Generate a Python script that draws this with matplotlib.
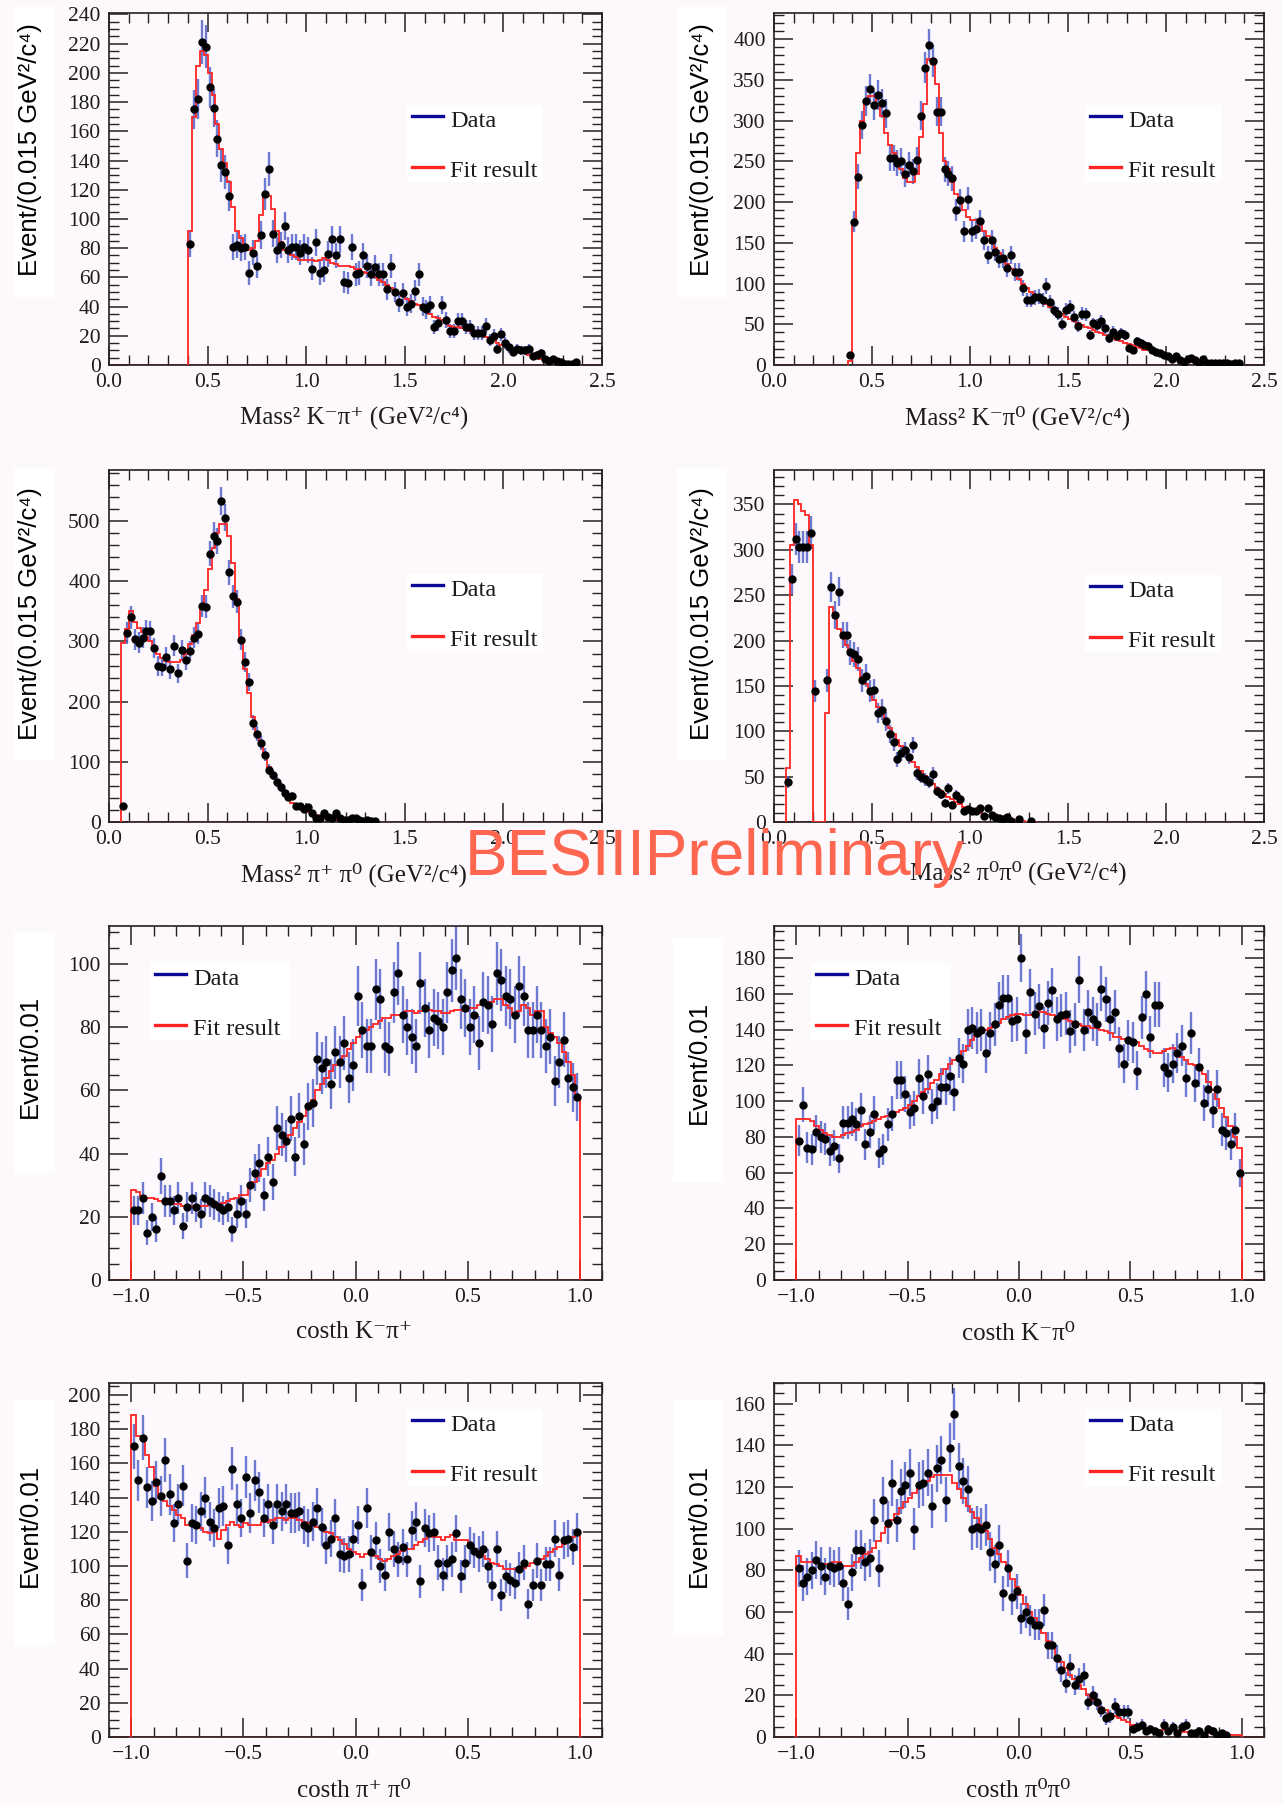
import numpy as np
import matplotlib
matplotlib.use("Agg")
import matplotlib.pyplot as plt
from matplotlib.ticker import MultipleLocator
from matplotlib.patches import Rectangle
from matplotlib.lines import Line2D

# ---------------- data ----------------
nan = np.nan
# bin width of the plotted points
mass_step = 0.02
cos_step = 0.02

# Panel 1: Mass^2 K- pi+
kpip_start = 0.41
kpip_data = [83, 175, 182, 221, 218, 190, 176, 155, 137, 132,
             116, 81, 82, 80, 81, 63, 77, 68, 89, 117,
             134, 90, 79, 82, 95, 79, 81, 81, 77, 81,
             79, 66, 84, 63, 65, 76, 86, 75, 86, 57,
             56, 81, 62, 63, 75, 68, 62, 67, 62, 62,
             52, 68, 50, 43, 49, 40, 42, 51, 62, 40,
             38, 41, 26, 29, 41, 31, 23, 23, 30, 30,
             26, 26, 22, 22, 22, 27, 17, 20, 11, 21,
             15, 12, 9, 11, 10, 10, 11, 6, 7, 8,
             4, 3, 4, 3, 2, 1, 1, 1, 2]
kpip_fit = [92, 170, 205, 215, 212, 200, 185, 165, 148, 138,
            125, 108, 92, 87, 81, 79, 80, 85, 103, 116,
            116, 107, 92, 84, 79, 77, 75, 74, 72, 72,
            72, 72, 71, 72, 73, 72, 70, 69, 68, 68,
            68, 67, 66, 66, 64, 63, 61, 60, 58, 57,
            55, 53, 51, 49, 47, 45, 44, 42, 41, 39,
            37, 35, 33, 32, 31, 29, 27, 26, 26, 25,
            24, 23, 22, 21, 20, 19, 18, 17, 15, 14,
            13, 12, 11, 10, 9, 8, 7, 6, 5, 4,
            3.5, 3, 2.5, 2, 1.5, 1, 0.7, 0.4, 0.2]

# Panel 2: Mass^2 K- pi0
kpi0_start = 0.39
kpi0_data = [12, 176, 231, 294, 324, 339, 319, 331, 321, 309,
             254, 254, 248, 250, 234, 246, 238, 252, 306, 365,
             393, 373, 311, 311, 240, 235, 229, 190, 202, 164,
             204, 164, 167, 177, 153, 135, 153, 139, 130, 131,
             119, 135, 114, 114, 95, 80, 80, 83, 84, 80,
             97, 77, 68, 63, 50, 68, 71, 59, 48, 63,
             62, 37, 51, 49, 54, 45, 33, 41, 35, 39,
             37, 21, 18, 29, 27, 24, 23, 19, 16, 15,
             12, 11, 7, 11, 6, 4, 7, 9, 6, 3,
             7, 3, 2, 2, 2, 3, 3, 1, 2, 2]
kpi0_fit = [5, 175, 260, 300, 320, 330, 330, 320, 305, 285,
            270, 260, 250, 240, 230, 225, 225, 235, 280, 320,
            375, 370, 345, 285, 250, 240, 225, 210, 200, 190,
            182, 178, 178, 172, 165, 158, 150, 143, 137, 130,
            124, 118, 112, 106, 100, 95, 90, 86, 82, 78,
            75, 71, 68, 65, 62, 59, 56, 54, 51, 49,
            47, 45, 43, 41, 39, 37, 35, 33, 31, 29,
            27, 26, 24, 22, 21, 19, 18, 16, 15, 13,
            12, 11, 10, 8, 7, 6, 5, 4, 3.5, 3,
            2.5, 2, 1.5, 1, 0.8, 0.5, 0.3, 0.2, 0.1, 0]

# Panel 3: Mass^2 pi+ pi0
pippi0_start = 0.07
pippi0_data = [26, 314, 340, 304, 298, 306, 318, 317, 289, 259,
               258, 274, 254, 293, 247, 286, 269, 284, 306, 313,
               359, 358, 446, 476, 467, 534, 506, 415, 375, 366,
               303, 266, 233, 165, 147, 131, 112, 87, 78, 66,
               58, 48, 42, 44, 26, 26, 22, 25, 15, 7,
               6, 15, 8, 7, 15, 7, 3, 4, 7, 7,
               3, 1, 3, 1, 1]
pippi0_fit = [298, 320, 350, 333, 322, 315, 308, 300, 290, 280,
              272, 268, 266, 266, 266, 270, 280, 295, 310, 330,
              355, 385, 420, 455, 480, 495, 495, 475, 430, 370,
              300, 255, 215, 175, 150, 130, 110, 92, 78, 65,
              55, 46, 38, 32, 27, 23, 19, 16, 13, 11,
              9, 7.5, 6, 5, 4, 3.5, 3, 2.5, 2, 1.5,
              1, 0.8, 0.5, 0.3, 0.1]

# Panel 4: Mass^2 pi0 pi0 (K_S veto gap)
pi0pi0_start = 0.07
pi0pi0_data = [44, 268, 312, 303, 303, 303, 319, 144, nan, nan,
               156, 259, 228, 254, 206, 206, 187, 185, 180, 156,
               161, 144, 146, 120, 124, 111, 97, 88, 69, 76,
               79, 72, 85, 54, 50, 47, 44, 53, 34, 31,
               21, 37, 19, 30, 25, 12, 14, 12, 12, 15,
               7, 15, 8, 5, 4, 3, 5, 1.5, nan, 3,
               nan, nan, 1, nan]
pi0pi0_fit = [60, 305, 355, 350, 343, 338, 305, 0, 0, 0,
              120, 237, 225, 213, 203, 195, 186, 178, 170, 160,
              152, 143, 135, 127, 120, 112, 104, 97, 90, 84,
              78, 72, 66, 61, 56, 51, 46, 42, 38, 34,
              31, 28, 25, 22, 20, 17, 15, 13, 12, 10,
              9, 7, 6, 5, 4, 3, 2.5, 2, 1.5, 1,
              0.7, 0.5, 0.3, 0.1]

# Panels 5-8: helicity angles, 100 bins from -1 to 1
cos_start = -0.99
costh_kpip_data = [22, 22, 26, 15, 20, 16, 33, 25, 25, 22,
                   26, 17, 23, 26, 23, 21, 26, 25, 24, 23,
                   22, 23, 16, 21, 25, 21, 30, 34, 37, 27,
                   39, 31, 48, 46, 44, 51, 39, 52, 43, 55,
                   56, 70, 67, 69, 62, 72, 69, 75, 64, 68,
                   90, 79, 74, 74, 92, 89, 74, 73, 91, 97,
                   84, 80, 77, 74, 94, 86, 79, 83, 82, 80,
                   91, 98, 102, 89, 86, 80, 84, 75, 88, 87,
                   81, 97, 95, 90, 89, 84, 93, 90, 79, 79,
                   84, 79, 74, 77, 63, 69, 76, 64, 61, 58]
costh_kpip_fit = [28.5, 28, 26.5, 26, 26, 25.5, 25, 25, 24.5, 24,
                  24, 23.5, 23.5, 23.5, 23.5, 23.5, 23.5, 24, 24, 24,
                  24.5, 25, 25.5, 26, 27, 27, 29, 31, 33, 35,
                  37, 38, 40, 42, 44, 46, 48, 50, 52, 55,
                  57, 60, 62, 64, 66, 68, 69, 71, 73, 75,
                  77, 78, 79, 80, 81, 82, 83, 83, 84, 84,
                  84, 85, 85, 84.5, 85, 85, 85.5, 85, 85, 84.5,
                  84.5, 85, 85.5, 85.5, 85, 86, 86, 87, 87, 88,
                  88, 89, 89, 87, 86, 84, 85, 87, 86, 84,
                  85, 85, 80, 78, 77, 75, 72, 69, 65, 57]

costh_kpi0_data = [78, 98, 74, 73, 83, 80, 79, 72, 75, 68,
                   88, 88, 90, 87, 95, 76, 83, 93, 71, 73,
                   87, 93, 112, 112, 104, 94, 96, 113, 103, 115,
                   97, 100, 108, 108, 114, 105, 124, 121, 140, 141,
                   138, 140, 127, 138, 143, 154, 158, 158, 145, 146,
                   180, 138, 161, 149, 153, 141, 155, 162, 146, 148,
                   149, 139, 143, 168, 140, 150, 146, 143, 163, 157,
                   146, 150, 130, 121, 134, 133, 117, 147, 160, 136,
                   154, 154, 119, 116, 121, 127, 131, 113, 138, 110,
                   119, 99, 107, 95, 107, 84, 82, 76, 84, 60]
costh_kpi0_fit = [90, 90, 90, 89, 86, 84, 82, 81, 80, 80,
                  81, 82, 83, 84, 86, 87, 88, 89, 90, 91,
                  92, 93, 94, 95, 96, 98, 100, 103, 105, 107,
                  110, 112, 115, 118, 121, 123, 125, 128, 131, 134,
                  137, 139, 140, 141, 143, 144, 146, 147, 148, 149,
                  149, 148, 148, 149, 150, 150, 149, 148, 147, 147,
                  146, 145, 144, 143, 142, 142, 141, 141, 140, 139,
                  138, 136, 136, 135, 135, 134, 133, 131, 129, 128,
                  127, 127, 128, 129, 130, 128, 125, 123, 121, 120,
                  118, 115, 111, 106, 101, 96, 91, 86, 80, 74]

costh_pippi0_data = [170, 150, 175, 146, 138, 149, 141, 162, 142, 125,
                     136, 147, 103, 125, 124, 132, 140, 126, 122, 134,
                     135, 112, 157, 136, 128, 152, 131, 150, 143, 128,
                     136, 124, 136, 132, 136, 131, 131, 132, 124, 122,
                     126, 134, 123, 112, 116, 128, 107, 106, 107, 116,
                     124, 89, 134, 108, 115, 100, 95, 120, 110, 104,
                     111, 104, 121, 126, 91, 122, 119, 120, 102, 95,
                     102, 104, 119, 94, 102, 112, 109, 107, 110, 100,
                     89, 110, 83, 94, 92, 90, 98, 102, 78, 89,
                     103, 89, 101, 101, 116, 95, 115, 116, 111, 120]
costh_pippi0_fit = [188, 176, 176, 165, 158, 147, 140, 138, 135, 133,
                    130, 128, 124, 124, 124, 122, 120, 119, 121, 116,
                    121, 124, 126, 124, 123, 125, 124, 124, 124, 126,
                    126, 127, 128, 128, 127, 128, 128, 127, 126, 125,
                    124, 123, 122, 120, 119, 117, 115, 113, 110, 108,
                    107, 105, 107, 108, 106, 104, 103, 104, 106, 107,
                    109, 110, 110, 112, 114, 116, 118, 117, 117, 115,
                    117, 118, 115, 115, 115, 112, 110, 108, 106, 104,
                    102, 101, 100, 98, 98, 98, 98, 99, 100, 102,
                    103, 104, 106, 108, 110, 111, 113, 115, 117, 119]

costh_pi0pi0_data = [81, 74, 77, 80, 85, 82, 77, 82, 81, 82,
                     74, 64, 79, 90, 90, 84, 86, 104, 81, 114,
                     103, 122, 104, 118, 121, 127, 100, 121, 122, 127,
                     111, 129, 133, 114, 139, 155, 130, 123, 119, 100,
                     101, 100, 102, 89, 83, 92, 69, 81, 67, 70,
                     57, 60, 56, 54, 54, 61, 44, 44, 38, 32,
                     26, 34, 25, 28, 30, 17, 20, 17, 13, 9,
                     10, 15, 12, 12, 12, 4, 5, 6, 3, 4,
                     3, 2, 6, 3, 5, 2, 5, 6, 2, 2,
                     3, 1, 4, 3, 1, 2, 1, nan, nan, nan]
costh_pi0pi0_fit = [87, 84, 84, 84, 84, 83, 83, 83, 84, 84,
                    82, 82, 82, 84, 86, 88, 89, 91, 94, 98,
                    101, 104, 107, 110, 113, 115, 117, 120, 121, 123,
                    125, 126, 126, 126, 126, 122, 119, 115, 111, 108,
                    105, 102, 99, 95, 91, 88, 84, 80, 76, 72,
                    68, 64, 60, 57, 53, 50, 46, 43, 39, 36,
                    33, 30, 28, 25, 23, 20, 18, 16, 14, 13,
                    11, 10, 9, 8, 7, 6, 5.5, 5, 4.5, 4,
                    3.8, 3.5, 3.2, 3, 2.8, 2.6, 2.5, 2.3, 2.2, 2,
                    1.9, 1.8, 1.7, 1.6, 1.5, 1.4, 1.3, 1.2, 1.1, 1]

mass_xticks = [0.0, 0.5, 1.0, 1.5, 2.0, 2.5]
cos_xticks = [-1.0, -0.5, 0.0, 0.5, 1.0]

xlabels = ["Mass² K⁻π⁺ (GeV²/c⁴)", "Mass² K⁻π⁰ (GeV²/c⁴)",
           "Mass² π⁺ π⁰ (GeV²/c⁴)", "Mass² π⁰π⁰ (GeV²/c⁴)",
           "costh K⁻π⁺", "costh K⁻π⁰", "costh π⁺ π⁰", "costh π⁰π⁰"]
mass_ylabel = "Event/(0.015 GeV²/c⁴)"
cos_ylabel = "Event/0.01"
legend_labels = ["Data", "Fit result"]
watermark = "BESIIIPreliminary"

# ---------------- style ----------------
W, H = 1283, 1805
plt.rcParams['font.family'] = ['Liberation Serif', 'DejaVu Serif']
plt.rcParams['axes.unicode_minus'] = True

BG = '#fdf8fc'
RED = '#ff2424'
ERR = '#4a5bc6'
NAVY = '#0a0a96'

fig = plt.figure(figsize=(W / 100, H / 100), dpi=100, facecolor=BG)


def fx(px):
    return px / W


def fy(py):
    return 1 - py / H


col_x = [(109, 602), (774, 1264)]
row_y = [(13, 365), (470, 822), (926, 1280), (1383, 1737)]

panels = [
    dict(data=kpip_data, fit=kpip_fit, start=kpip_start, step=mass_step, ylim=241, ymaj=20, ymin=5,
         xr=(0, 2.5), xt=mass_xticks, ylab=mass_ylabel),
    dict(data=kpi0_data, fit=kpi0_fit, start=kpi0_start, step=mass_step, ylim=432, ymaj=50, ymin=10,
         xr=(0, 2.5), xt=mass_xticks, ylab=mass_ylabel),
    dict(data=pippi0_data, fit=pippi0_fit, start=pippi0_start, step=mass_step, ylim=585, ymaj=100, ymin=20,
         xr=(0, 2.5), xt=mass_xticks, ylab=mass_ylabel),
    dict(data=pi0pi0_data, fit=pi0pi0_fit, start=pi0pi0_start, step=mass_step, ylim=388, ymaj=50, ymin=10,
         xr=(0, 2.5), xt=mass_xticks, ylab=mass_ylabel),
    dict(data=costh_kpip_data, fit=costh_kpip_fit, start=cos_start, step=cos_step, ylim=112, ymaj=20, ymin=5,
         xr=(-1.1, 1.1), xt=cos_xticks, ylab=cos_ylabel),
    dict(data=costh_kpi0_data, fit=costh_kpi0_fit, start=cos_start, step=cos_step, ylim=198, ymaj=20, ymin=5,
         xr=(-1.1, 1.1), xt=cos_xticks, ylab=cos_ylabel),
    dict(data=costh_pippi0_data, fit=costh_pippi0_fit, start=cos_start, step=cos_step, ylim=207, ymaj=20, ymin=5,
         xr=(-1.1, 1.1), xt=cos_xticks, ylab=cos_ylabel),
    dict(data=costh_pi0pi0_data, fit=costh_pi0pi0_fit, start=cos_start, step=cos_step, ylim=170, ymaj=20, ymin=5,
         xr=(-1.1, 1.1), xt=cos_xticks, ylab=cos_ylabel),
]

# layout helpers (pixel positions of decorations)
ylabel_pos = [(30, 150), (702, 150), (30, 614), (702, 614),
              (30, 1056), (699, 1062), (30, 1525), (699, 1525)]
white_patch = [(14, 7, 55, 297), (677, 7, 727, 297), (14, 468, 55, 760), (677, 468, 727, 760),
               (14, 932, 55, 1173), (673, 938, 723, 1182), (14, 1400, 55, 1645), (673, 1400, 723, 1635)]
xlabel_pos = [(354, 425), (1018, 425), (354, 882), (1018, 880),
              (354, 1338), (1018, 1340), (354, 1797), (1018, 1797)]
legend_box = [(407, 105, 136), (1085, 105, 136), (407, 574, 136), (1085, 575, 136),
              (150, 963, 140), (811, 963, 140), (407, 1409, 136), (1085, 1409, 136)]

for i, p in enumerate(panels):
    r, c = divmod(i, 2)
    x0, x1 = col_x[c]
    y0, y1 = row_y[r]
    ax = fig.add_axes([fx(x0), fy(y1), (x1 - x0) / W, (y1 - y0) / H])
    ax.set_facecolor('none')

    vals = np.array(p['data'], dtype=float)
    fit = np.array(p['fit'], dtype=float)
    centers = p['start'] + p['step'] * np.arange(len(vals))
    edges = p['start'] - p['step'] / 2 + p['step'] * np.arange(len(fit) + 1)

    ax.errorbar(centers, vals, yerr=np.sqrt(vals), fmt='none', ecolor=ERR,
                elinewidth=1.7, capsize=0, alpha=0.8, zorder=2)
    ax.axhline(0, color=RED, lw=1.3, zorder=2.5)
    ax.stairs(fit, edges, baseline=0, color=RED, lw=1.3, zorder=3)
    ax.plot(centers, vals, 'o', color='black', ms=5.0, mec='black', zorder=4)

    ax.set_xlim(*p['xr'])
    ax.set_ylim(0, p['ylim'])
    ax.set_xticks(p['xt'])
    ax.set_xticklabels([f"{t:.1f}".replace('-', '\u2212') for t in p['xt']])
    ax.xaxis.set_minor_locator(MultipleLocator(0.1))
    ax.yaxis.set_major_locator(MultipleLocator(p['ymaj']))
    ax.yaxis.set_minor_locator(MultipleLocator(p['ymin']))
    ax.tick_params(which='both', direction='in', top=True, right=True, color='#222222',
                   labelsize=15.5, labelcolor='#1c1c1c')
    ax.tick_params(which='major', length=14, width=1.1, pad=6)
    ax.tick_params(which='minor', length=7, width=1.0)
    for s in ax.spines.values():
        s.set_linewidth(1.2)
        s.set_color('#222222')

    # ylabel on white patch
    wx0, wy0, wx1, wy1 = white_patch[i]
    fig.patches.append(Rectangle((fx(wx0), fy(wy1)), (wx1 - wx0) / W, (wy1 - wy0) / H,
                                 transform=fig.transFigure, facecolor='white',
                                 edgecolor='none', zorder=0.5))
    lx, ly = ylabel_pos[i]
    fig.text(fx(lx), fy(ly), p['ylab'], rotation=90, ha='center', va='center',
             fontsize=18.5, family=['Liberation Sans', 'DejaVu Sans'], color='black', zorder=5)
    xx, xy = xlabel_pos[i]
    fig.text(fx(xx), fy(xy), xlabels[i], ha='center', va='baseline', fontsize=18,
             color='#1c1c1c', zorder=5)

    # legend
    bx, by, bw = legend_box[i]
    fig.patches.append(Rectangle((fx(bx), fy(by + 77)), bw / W, 77 / H,
                                 transform=fig.transFigure, facecolor='white',
                                 edgecolor='none', zorder=6))
    for k, (lab, colr) in enumerate(zip(legend_labels, [NAVY, RED])):
        ly_line = by + 11 + 51 * k
        fig.lines.append(Line2D([fx(bx + 5), fx(bx + 36)], [fy(ly_line), fy(ly_line)],
                                transform=fig.transFigure, color=colr, lw=2.4, zorder=7))
        fig.text(fx(bx + 43), fy(by + 22 + 50 * k), lab, ha='left', va='baseline',
                 fontsize=17.5, color='#1c1c1c', zorder=7)

fig.text(fx(465), fy(875), watermark, ha='left', va='baseline', fontsize=46,
         family=['Liberation Sans', 'DejaVu Sans'], color='#ff6650', zorder=10)

fig.savefig('out.png', dpi=100, facecolor=BG)
